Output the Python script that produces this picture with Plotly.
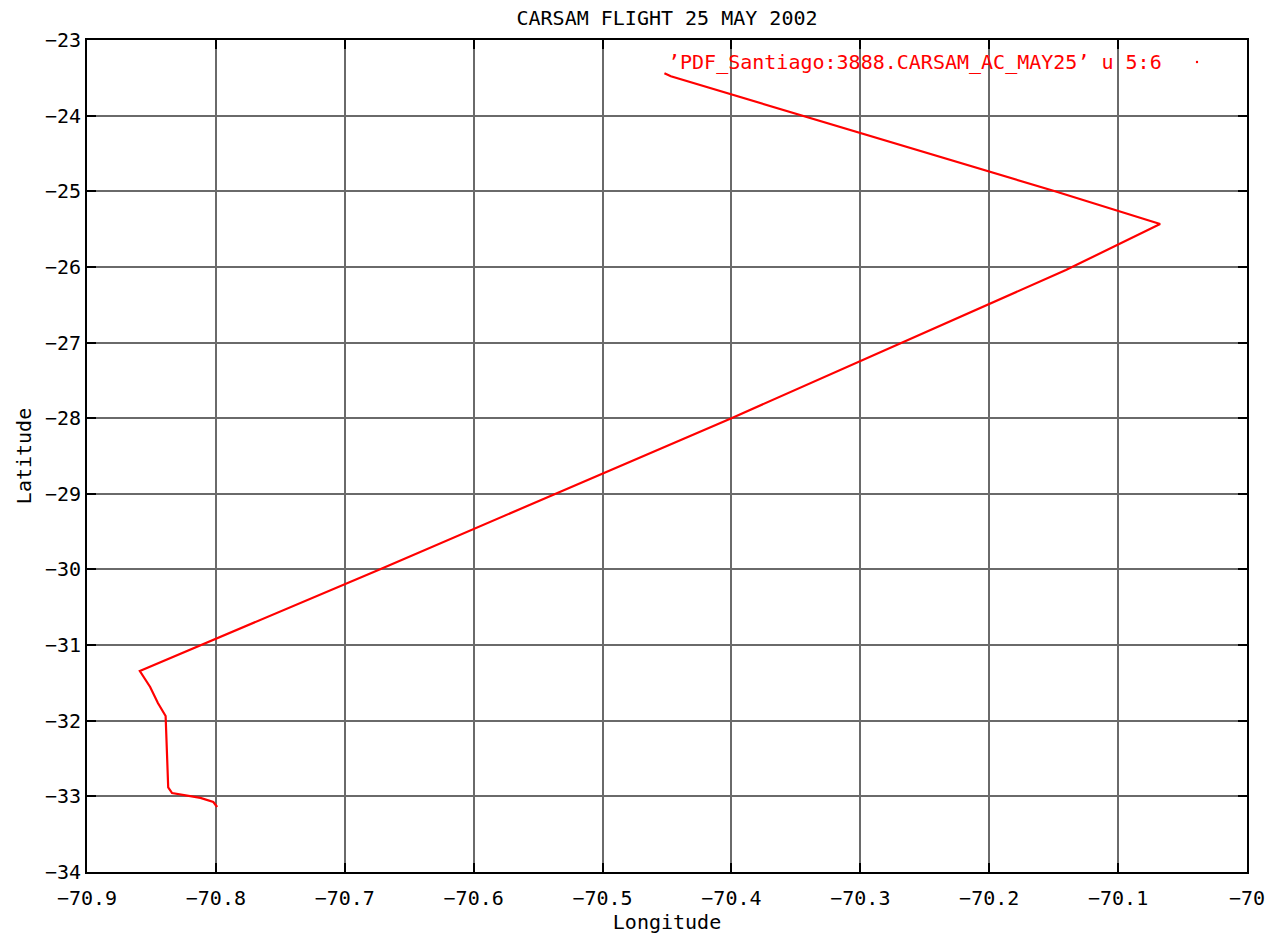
import plotly.graph_objects as go

# Flight track (longitude, latitude)
lon = [-70.799, -70.802, -70.812, -70.826, -70.834, -70.837, -70.838, -70.839,
       -70.845, -70.851, -70.859, -70.673, -70.400, -70.1405, -70.0674,
       -70.1496, -70.447, -70.452]
lat = [-33.14, -33.075, -33.02, -32.98, -32.956, -32.88, -32.36, -31.937,
       -31.766, -31.554, -31.343, -30.0, -28.0, -26.041, -25.433,
       -24.996, -23.48, -23.44]

x_ticks = [-70.9, -70.8, -70.7, -70.6, -70.5, -70.4, -70.3, -70.2, -70.1, -70]
x_tick_labels = ["\u221270.9", "\u221270.8", "\u221270.7", "\u221270.6", "\u221270.5",
                 "\u221270.4", "\u221270.3", "\u221270.2", "\u221270.1", "\u221270"]
y_ticks = [-23, -24, -25, -26, -27, -28, -29, -30, -31, -32, -33, -34]
y_tick_labels = ["\u2212" + str(-v) for v in y_ticks]

title_text = "CARSAM FLIGHT 25 MAY 2002"
legend_text = "\u2019PDF_Santiago:3888.CARSAM_AC_MAY25\u2019 u 5:6"

FONT = "DejaVu Sans Mono"
FS = 20
W, H = 1269, 935
L, R, T, B = 87, 22, 40, 63
pw, ph = W - L - R, H - T - B

fig = go.Figure()
fig.add_trace(go.Scatter(x=lon, y=lat, mode="lines",
                         line=dict(color="#ff0000", width=2.2), showlegend=False,
                         hoverinfo="x+y"))

axis_common = dict(
    showline=True, linecolor="black", linewidth=2, mirror="ticks",
    showgrid=True, gridcolor="#6a6a6a", gridwidth=2,
    ticks="inside", ticklen=9, tickwidth=2, tickcolor="black",
    zeroline=False, automargin=False,
    tickfont=dict(family=FONT, size=FS, color="black"),
)

fig.update_xaxes(range=[-70.9, -70], tickmode="array", tickvals=x_ticks,
                 ticktext=x_tick_labels, ticklabelstandoff=7,
                 title=dict(text="Longitude", font=dict(family=FONT, size=FS, color="black"),
                            standoff=3),
                 **axis_common)
fig.update_yaxes(range=[-34, -23], tickmode="array", tickvals=y_ticks,
                 ticktext=y_tick_labels, ticklabelstandoff=0,
                 title=dict(text="Latitude", font=dict(family=FONT, size=FS, color="black"),
                            standoff=8),
                 **axis_common)

fig.add_annotation(text=legend_text, xref="paper", yref="paper",
                   x=(666 - L) / pw, y=(H - B - 62) / ph, xanchor="left", yanchor="middle",
                   showarrow=False, font=dict(family=FONT, size=FS, color="#ff0000"))
# legend sample (dots style)
dx, dy = (1197 - L) / pw, (H - B - 62) / ph
fig.add_shape(type="circle", xref="paper", yref="paper",
              x0=dx - 1.2 / pw, x1=dx + 1.2 / pw, y0=dy - 1.2 / ph, y1=dy + 1.2 / ph,
              fillcolor="#ff0000", line=dict(width=0))

fig.update_layout(
    width=W, height=H,
    margin=dict(l=L, r=R, t=T, b=B, autoexpand=False),
    paper_bgcolor="white", plot_bgcolor="white",
    title=dict(text=title_text, x=(L + pw / 2) / W, xanchor="center",
               y=1 - 18 / H, yanchor="middle",
               font=dict(family=FONT, size=FS, color="black")),
    font=dict(family=FONT, size=FS, color="black"),
)

fig.write_html("out.html")
